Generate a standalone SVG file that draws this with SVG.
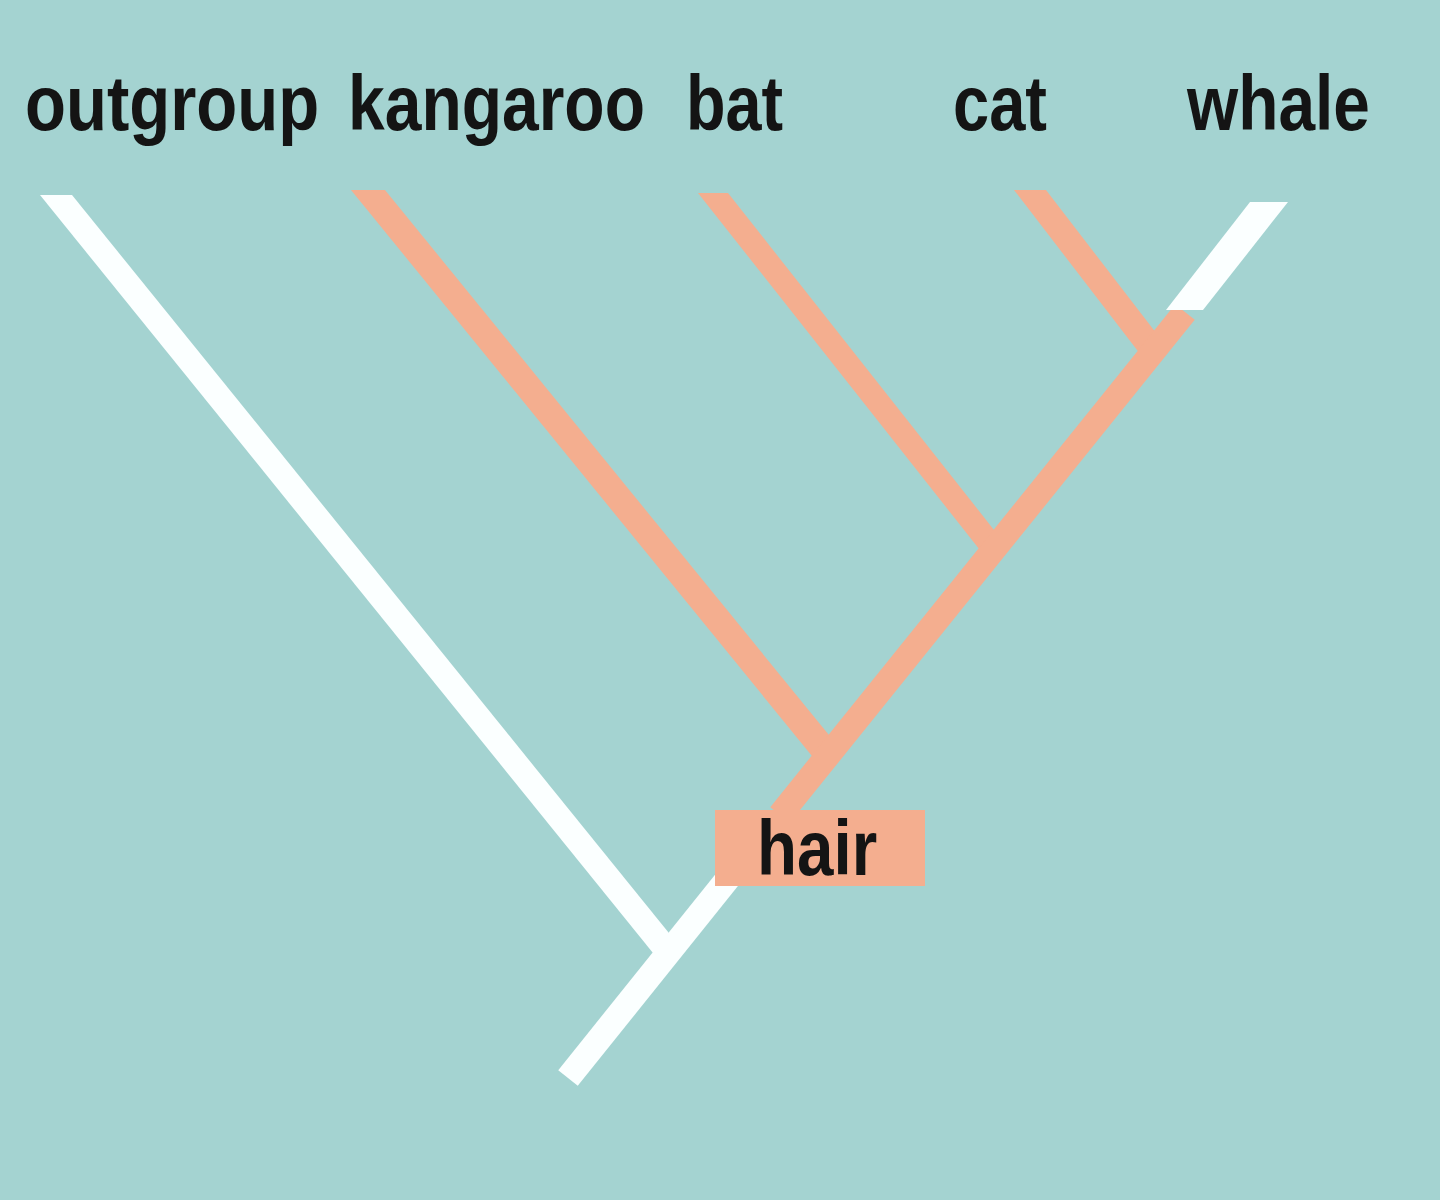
<svg xmlns="http://www.w3.org/2000/svg" width="1440" height="1200" viewBox="0 0 1440 1200">
<style>
.lbl{font-family:"Liberation Sans","DejaVu Sans",sans-serif;font-weight:bold;font-size:78px;fill:#141414}
.w{fill:#fbffff}
.o{fill:#f4ae8f}
</style>
<rect x="0" y="0" width="1440" height="1200" fill="#a4d3d1"/>
<g id="connectors">
<polygon class="w" points="40,195 72,195 676.6,942.6 660.7,962.5"/>
<line x1="568" y1="1078" x2="730" y2="876" stroke="#fbffff" stroke-width="25"/>
<polygon class="o" points="351,190 385,190 836.7,744.6 819.8,765.6"/>
<polygon class="o" points="698,193 728,193 1001.7,539.7 986.6,558.5"/>
<polygon class="o" points="1014,190 1046,190 1161.9,340.6 1145.5,360.9"/>
<line x1="780" y1="815" x2="1185" y2="312" stroke="#f4ae8f" stroke-width="25"/>
<polygon class="w" points="1166,310 1203,310 1288,202 1250,202"/>
</g>
<g id="outgroup" transform="translate(25,130) scale(0.86,1)"><text class="lbl" x="0" y="0">outgroup</text></g>
<g id="kangaroo" transform="translate(348,130) scale(0.846,1)"><text class="lbl" x="0" y="0">kangaroo</text></g>
<g id="bat" transform="translate(686,130) scale(0.83,1)"><text class="lbl" x="0" y="0">bat</text></g>
<g id="cat" transform="translate(953,130) scale(0.834,1)"><text class="lbl" x="0" y="0">cat</text></g>
<g id="whale" transform="translate(1187,130) scale(0.844,1)"><text class="lbl" x="0" y="0">whale</text></g>
<g id="hair">
<rect class="o" x="715" y="810" width="210" height="76"/>
<text class="lbl" transform="translate(757,875) scale(0.84,1)" x="0" y="0">hair</text>
</g>
</svg>
